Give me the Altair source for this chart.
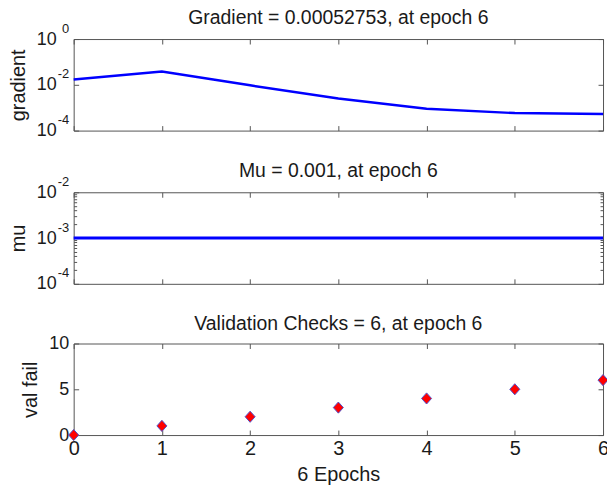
import altair as alt
import pandas as pd

# ---------------- data ----------------
epochs = [0, 1, 2, 3, 4, 5, 6]
gradient = [0.0172, 0.0378, 0.0095, 0.00255, 0.00090, 0.00058, 0.00052753]
mu = [0.001, 0.001, 0.001, 0.001, 0.001, 0.001, 0.001]
val_fail = [0, 1, 2, 3, 4, 5, 6]

x_ticks = [0, 1, 2, 3, 4, 5, 6]
grad_ticks = [0.0001, 0.01, 1]
grad_exps = ["-4", "-2", "0"]
mu_ticks = [0.0001, 0.001, 0.01]
mu_exps = ["-4", "-3", "-2"]
mu_minor = [0.0002, 0.0003, 0.0004, 0.0005, 0.0006, 0.0007, 0.0008, 0.0009,
            0.002, 0.003, 0.004, 0.005, 0.006, 0.007, 0.008, 0.009]
val_ticks = [0, 5, 10]

panel_titles = ["Gradient = 0.00052753, at epoch 6",
                "Mu = 0.001, at epoch 6",
                "Validation Checks = 6, at epoch 6"]
y_titles = ["gradient", "mu", "val fail"]
x_title = "6 Epochs"

# ---------------- styling ----------------
FONT = "Liberation Sans"
FRAME = "#555555"
TEXT = "#1a1a1a"
W, H = 532, 92

df_grad = pd.DataFrame({"epoch": epochs, "value": gradient})
df_mu = pd.DataFrame({"epoch": epochs, "value": mu})
df_val = pd.DataFrame({"epoch": epochs, "value": val_fail})

x_scale = alt.Scale(domain=[0, 6], nice=False, zero=False)


def x_axis(orient, labels=False, title=None):
    kw = dict(orient=orient, values=x_ticks, offset=-5, tickSize=5, tickColor=FRAME,
              tickWidth=1, domain=False, grid=False, labels=labels)
    if labels:
        kw.update(labelFlush=False, labelFontSize=20, labelFont=FONT, labelColor=TEXT,
                  labelPadding=4, format="d")
    if title:
        kw.update(title=title, titleFontSize=20, titleFont=FONT, titleFontWeight="normal",
                  titleColor=TEXT, titlePadding=6)
    else:
        kw.update(title=None)
    return alt.Axis(**kw)


def y_main_axis(ticks, title, log, title_pad):
    kw = dict(orient="left", values=ticks, offset=-5, tickSize=5, tickColor=FRAME,
              tickWidth=1, domain=False, grid=False, labelFontSize=18, labelFont=FONT,
              labelColor=TEXT, title=title, titleFontSize=20, titleFont=FONT,
              titleFontWeight="normal", titleColor=TEXT, titlePadding=title_pad)
    if log:
        kw.update(labelExpr="'10'", labelPadding=17.5)
    else:
        kw.update(labelPadding=5, format="d")
    return alt.Axis(**kw)


def y_exp_axis(ticks, exps):
    expr = "[" + ",".join("'%s'" % e for e in exps) + "][indexof([" + \
        ",".join(repr(t) for t in ticks) + "], datum.value)]"
    return alt.Axis(orient="left", values=ticks, offset=-5, tickSize=5, tickOpacity=0,
                    domain=False, grid=False, labelExpr=expr, labelFontSize=13,
                    labelFont=FONT, labelColor=TEXT, labelPadding=5, labelOffset=-11,
                    title=None)


def y_tick_axis(orient, ticks, size):
    return alt.Axis(orient=orient, values=ticks, offset=-size, tickSize=size,
                    tickColor=FRAME, tickWidth=1, domain=False, grid=False,
                    labels=False, title=None)


def panel(df, yscale, main_mark, y_main, extra_y_axes, x_main, title, title_offset):
    base = alt.Chart(df)
    layers = [
        main_mark.encode(x=alt.X("epoch:Q", scale=x_scale, axis=x_main),
                         y=alt.Y("value:Q", scale=yscale, axis=y_main))
    ]
    for i, ax in enumerate(extra_y_axes):
        xax = x_axis("top") if i == 0 else None
        layers.append(
            base.mark_point(opacity=0).encode(
                x=alt.X("epoch:Q", scale=x_scale, axis=xax),
                y=alt.Y("value:Q", scale=yscale, axis=ax))
        )
    return alt.layer(*layers).resolve_axis(x="independent", y="independent").properties(
        width=W, height=H,
        title=alt.TitleParams(text=title, fontSize=19.5, font=FONT, fontWeight="normal",
                              color=TEXT, anchor="middle", frame="group",
                              offset=title_offset))


grad_scale = alt.Scale(type="log", domain=[0.0001, 1], nice=False)
mu_scale = alt.Scale(type="log", domain=[0.0001, 0.01], nice=False)
val_scale = alt.Scale(domain=[0, 10], nice=False)

p1 = panel(df_grad, grad_scale,
           alt.Chart(df_grad).mark_line(color="#0000ff", strokeWidth=2.5),
           y_main_axis(grad_ticks, y_titles[0], True, 7.4),
           [y_exp_axis(grad_ticks, grad_exps), y_tick_axis("right", grad_ticks, 5)],
           x_axis("bottom"), panel_titles[0], -6)

p2 = panel(df_mu, mu_scale,
           alt.Chart(df_mu).mark_line(color="#0000ff", strokeWidth=3),
           y_main_axis(mu_ticks, y_titles[1], True, 7.4),
           [y_exp_axis(mu_ticks, mu_exps), y_tick_axis("right", mu_ticks, 5),
            y_tick_axis("left", mu_minor, 3), y_tick_axis("right", mu_minor, 3)],
           x_axis("bottom"), panel_titles[1], -6)

p3 = panel(df_val, val_scale,
           alt.Chart(df_val).mark_point(shape="M0,-1L0.9,0L0,1L-0.9,0Z", filled=True,
                                        fill="#ff0000", stroke="#5050c8", strokeWidth=1,
                                        size=125, opacity=1),
           y_main_axis(val_ticks, y_titles[2], False, 8),
           [y_tick_axis("right", val_ticks, 5)],
           x_axis("bottom", labels=True, title=x_title), panel_titles[2], 0)

chart = alt.vconcat(p1, p2, p3, spacing=20).properties(
    padding={"left": 0, "top": -2, "right": -4, "bottom": -1}, background="white"
).configure_view(stroke=FRAME, strokeWidth=1)

chart.save("out.html", embed_options={"renderer": "svg", "actions": False})
